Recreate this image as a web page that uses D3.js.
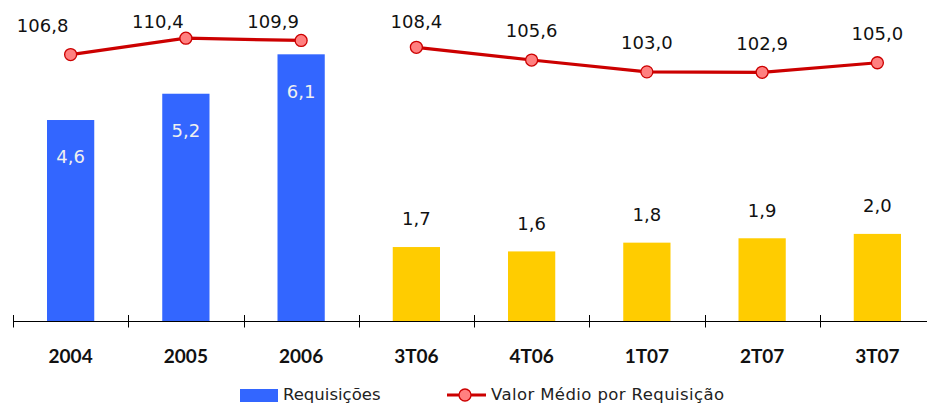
<!DOCTYPE html>
<html><head><meta charset="utf-8">
<script src="https://cdn.jsdelivr.net/npm/d3@7"></script>
<style>body{margin:0;background:#fff}svg{display:block}</style>
</head><body>
<script>
const categories = ["2004","2005","2006","3T06","4T06","1T07","2T07","3T07"];
const requisicoes = [4.6,5.2,6.1,1.7,1.6,1.8,1.9,2.0];
const valorMedio = [106.8,110.4,109.9,108.4,105.6,103.0,102.9,105.0];
const annual = [true,true,true,false,false,false,false,false];
const seriesNames = ["Requisições","Valor Médio por Requisição"];

const W=927,H=404;
const baseY=321.5;
const svg=d3.select("body").append("svg").attr("width",W).attr("height",H);
const fmt=v=>d3.format(".1f")(v).replace(".",",");

const x=d3.scaleBand().domain(categories).range([13,935]);
const yBar=d3.scaleLinear().domain([0,7.34]).range([baseY,0]);
const yLine=d3.scaleLinear().domain([48.1,118.8]).range([baseY,0]);
const bw=x.bandwidth()*0.41;
const cx=c=>x(c)+x.bandwidth()/2;

// bars
svg.selectAll("rect.bar").data(categories).join("rect")
 .attr("x",c=>cx(c)-bw/2).attr("width",bw)
 .attr("y",(c,i)=>yBar(requisicoes[i])).attr("height",(c,i)=>baseY-yBar(requisicoes[i]))
 .attr("fill",(c,i)=>annual[i]?"#3366FF":"#FFCC00");

// bar labels
svg.selectAll("text.bl").data(categories).join("text")
 .attr("x",cx).attr("y",(c,i)=>annual[i]?yBar(requisicoes[i])+37:yBar(requisicoes[i])-28)
 .attr("dy","0.35em").attr("text-anchor","middle")
 .attr("font-family","DejaVu Sans").attr("font-size",18)
 .attr("fill",(c,i)=>annual[i]?"#f0f0f0":"#111")
 .text((c,i)=>fmt(requisicoes[i]));

// axis
const ax=svg.append("g");
ax.append("line").attr("x1",13).attr("x2",W).attr("y1",baseY).attr("y2",baseY).attr("stroke","#000").attr("stroke-width",1.2);
ax.selectAll("line.t").data(categories).join("line")
 .attr("x1",c=>Math.round(x(c))+0.5).attr("x2",c=>Math.round(x(c))+0.5).attr("y1",baseY-6.5).attr("y2",baseY+6)
 .attr("stroke","#000");
ax.selectAll("text").data(categories).join("text")
 .attr("x",cx).attr("y",356).attr("dy","0.35em").attr("text-anchor","middle")
 .attr("font-family","Lato").attr("font-weight","bold").attr("font-size",19).attr("fill","#111")
 .text(c=>c);

// line (broken between annual and quarterly groups)
const pts=valorMedio.map((v,i)=>({v,i,g:annual[i]}));
const groups=[pts.filter(p=>p.g),pts.filter(p=>!p.g)];
const line=d3.line().x(p=>cx(categories[p.i])).y(p=>yLine(p.v));
svg.selectAll("path.ln").data(groups).join("path").attr("d",line)
 .attr("fill","none").attr("stroke","#CC0000").attr("stroke-width",3.2);
svg.selectAll("circle.m").data(valorMedio).join("circle")
 .attr("cx",(v,i)=>cx(categories[i])).attr("cy",v=>yLine(v)).attr("r",6)
 .attr("fill","#FF8080").attr("stroke","#CC0000").attr("stroke-width",1.3);
svg.selectAll("text.ll").data(valorMedio).join("text")
 .attr("x",(v,i)=>cx(categories[i])+(annual[i]?-28:0))
 .attr("y",v=>Math.max(yLine(v)-29,22)).attr("dy","0.35em").attr("text-anchor","middle")
 .attr("font-family","DejaVu Sans").attr("font-size",18).attr("fill","#111")
 .text(v=>fmt(v));

// legend
const lg=svg.append("g");
lg.append("rect").attr("x",240).attr("y",389).attr("width",38).attr("height",13).attr("fill","#3366FF");
lg.append("text").attr("x",283).attr("y",400).attr("font-family","DejaVu Sans").attr("font-size",16.5).attr("fill","#222").text(seriesNames[0]);
lg.append("line").attr("x1",447).attr("x2",486).attr("y1",395).attr("y2",395).attr("stroke","#CC0000").attr("stroke-width",3.2);
lg.append("circle").attr("cx",465).attr("cy",395).attr("r",6).attr("fill","#FF8080").attr("stroke","#CC0000").attr("stroke-width",1.3);
lg.append("text").attr("x",491).attr("y",400).attr("font-family","DejaVu Sans").attr("font-size",16.5).attr("letter-spacing",0.4).attr("fill","#222").text(seriesNames[1]);
</script>
</body></html>
